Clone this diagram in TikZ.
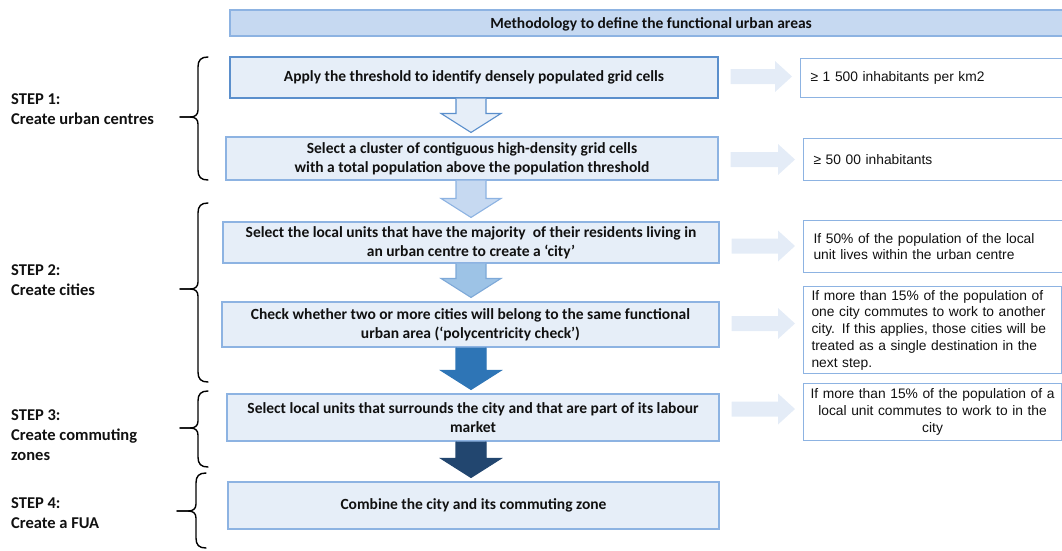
\documentclass[tikz,border=0pt]{standalone}
\usepackage{fontspec}
\setmainfont{Carlito}
\newfontfamily\arialf{Liberation Sans}
\usetikzlibrary{calc}
\definecolor{boxfill}{HTML}{E6EEF8}
\definecolor{boxline}{HTML}{8DB3E2}
\definecolor{boxlinedark}{HTML}{5B8FCC}
\definecolor{titlefill}{HTML}{C6D9F1}
\definecolor{arrtwo}{HTML}{C6D9F1}
\definecolor{arrthree}{HTML}{9DC3E6}
\definecolor{arrthreeline}{HTML}{7EA9D8}
\definecolor{arrfour}{HTML}{2E75B6}
\definecolor{arrfive}{HTML}{22466F}
\definecolor{rarrfill}{HTML}{E4ECF7}
\definecolor{txt}{HTML}{111111}

\newcommand\dnarrow[3]{%
  \draw[#1] let \p1=(#2.south), \p2=(#3.north), \p3=(axis) in
    (\x3-15pt,\y1) -- (\x3-15pt,\y2+23pt) -- (\x3-30pt,\y2+23pt) -- (\x3,\y2+4pt)
    -- (\x3+30pt,\y2+23pt) -- (\x3+15pt,\y2+23pt) -- (\x3+15pt,\y1);}
\newcommand\rtarrow[3]{%
  \fill[rarrow] let \p1=(#1.east), \p2=(#2.west) in
    (\x1+12pt,-#3pt+7.5pt) -- (\x2-25pt,-#3pt+7.5pt) -- (\x2-25pt,-#3pt+15.5pt)
    -- (\x2-8pt,-#3pt) -- (\x2-25pt,-#3pt-15.5pt) -- (\x2-25pt,-#3pt-7.5pt)
    -- (\x1+12pt,-#3pt-7.5pt) -- cycle;}
\newcommand\stepbrace[5]{%
  \draw[bracestyle] (#1+10,#2) .. controls (#1+3,#2) and (#1,#2+3) .. (#1,#2+10)
    -- (#1,#3-7) .. controls (#1,#3-2) and (#1-3,#3) .. (#1-8,#3) -- (#5,#3);
  \draw[bracestyle] (#5,#3) -- (#1-8,#3) .. controls (#1-3,#3) and (#1,#3+2) .. (#1,#3+7)
    -- (#1,#4-10) .. controls (#1,#4-3) and (#1+3,#4) .. (#1+10,#4);}

\begin{document}
\begin{tikzpicture}[x=1pt,y=-1pt,
  box/.style={draw=boxline, fill=boxfill, line width=1.1pt, text=txt, align=center,
    font=\fontsize{15.5pt}{19pt}\selectfont\bfseries, inner sep=0pt},
  titlebar/.style={draw=boxline, fill=titlefill, line width=1.1pt, inner sep=0pt},
  titletext/.style={text=txt, inner sep=0pt,
    font=\fontsize{15.5pt}{19pt}\selectfont\bfseries},
  rbox/.style={draw=boxline, fill=white, line width=1.1pt, text=txt,
    font=\arialf\fontsize{13.8pt}{16.7pt}\selectfont,
    inner xsep=10pt, inner ysep=0pt},
  steplbl/.style={align=left, text=txt, inner sep=0pt,
    font=\fontsize{16.5pt}{20pt}\selectfont\bfseries},
  rarrow/.style={fill=rarrfill},
  bracestyle/.style={draw=black, line width=1.4pt, line cap=round},
  aone/.style={draw=boxlinedark, fill=boxfill, line width=1.1pt, line join=miter},
  atwo/.style={draw=boxline, fill=arrtwo, line width=1.1pt, line join=miter},
  athree/.style={draw=arrthreeline, fill=arrthree, line width=1.1pt, line join=miter},
  afour/.style={draw=arrfour, fill=arrfour, line width=1.1pt, line join=miter},
  afive/.style={draw=arrfive, fill=arrfive, line width=1.1pt, line join=miter}
]
\useasboundingbox (0,0) rectangle (1062,550);
\coordinate (axis) at (471,0);

% title
\node[titlebar, minimum width=840pt, minimum height=26pt] (title) at (650,23) {};
\node[titletext, anchor=base east] (titlelbl) at (812,28)
  {Methodology to define the functional urban areas};

% main boxes
\node[box, draw=boxlinedark, minimum width=488pt, minimum height=41pt] (b1) at (474,77.5)
  {Apply the threshold to identify densely populated grid cells};
\node[box, minimum width=492pt, minimum height=43pt] (b2) at (472,158.5)
  {Select a cluster of contiguous high-density grid cells\\with a total population above the population threshold};
\node[box, minimum width=496pt, minimum height=41pt] (b3) at (471,242.5)
  {Select the local units that have the majority\ \ of their residents living in\\an urban centre to create a ‘city’};
\node[box, minimum width=497pt, minimum height=45pt] (b4) at (470.5,324.5)
  {Check whether two or more cities will belong to the same functional\\urban area (‘polycentricity check’)};
\node[box, minimum width=492pt, minimum height=47pt] (b5) at (473,417.5)
  {Select local units that surrounds the city and that are part of its labour\\market};
\node[box, minimum width=491pt, minimum height=47pt] (b6) at (473.5,505.5)
  {Combine the city and its commuting zone};

% down arrows
\dnarrow{aone}{b1}{b2}
\dnarrow{atwo}{b2}{b3}
\dnarrow{athree}{b3}{b4}
\dnarrow{afour}{b4}{b5}
\dnarrow{afive}{b5}{b6}

% right boxes
\node[rbox, anchor=north west, minimum width=270pt, minimum height=39pt, text width=250pt, align=left] (r1) at (800,58)
  {≥ 1 500 inhabitants per km2};
\node[rbox, anchor=north west, minimum width=267pt, minimum height=42pt, text width=247pt, align=left] (r2) at (803,138)
  {≥ 50 00 inhabitants};
\node[rbox, anchor=north west, minimum width=267pt, minimum height=52pt, text width=247pt, align=left] (r3) at (803,220)
  {If 50\% of the population of the local\\unit lives within the urban centre};
\node[rbox, anchor=north west, inner xsep=8pt, minimum width=258pt, minimum height=87pt, text width=242pt, align=left] (r4) at (803,286)
  {If more than 15\% of the population of\\one city commutes to work to another\\city. If this applies, those cities will be\\treated as a single destination in the\\next step.};
\node[rbox, anchor=north west, inner xsep=2pt, minimum width=258pt, minimum height=57pt, text width=254pt, align=center] (r5) at (803,383)
  {If more than 15\% of the population of a\\local unit commutes to work to in the\\city};

% right arrows
\rtarrow{b1}{r1}{76.5}
\rtarrow{b2}{r2}{159.5}
\rtarrow{b3}{r3}{246}
\rtarrow{b4}{r4}{323.5}
\rtarrow{b5}{r5}{409}

% step labels
\node[steplbl, anchor=west] (s1) at (11,109) {STEP 1:\\Create urban centres};
\node[steplbl, anchor=west] (s2) at (11,280) {STEP 2:\\Create cities};
\node[steplbl, anchor=west] (s3) at (11,435.5) {STEP 3:\\Create commuting\\zones};
\node[steplbl, anchor=west] (s4) at (11,513) {STEP 4:\\Create a FUA};

% braces
\stepbrace{198}{57}{117}{180}{180}
\stepbrace{198}{203}{289}{382}{180}
\stepbrace{198}{391}{428}{467}{180}
\stepbrace{196}{473}{511}{548}{177}
\end{tikzpicture}
\end{document}
